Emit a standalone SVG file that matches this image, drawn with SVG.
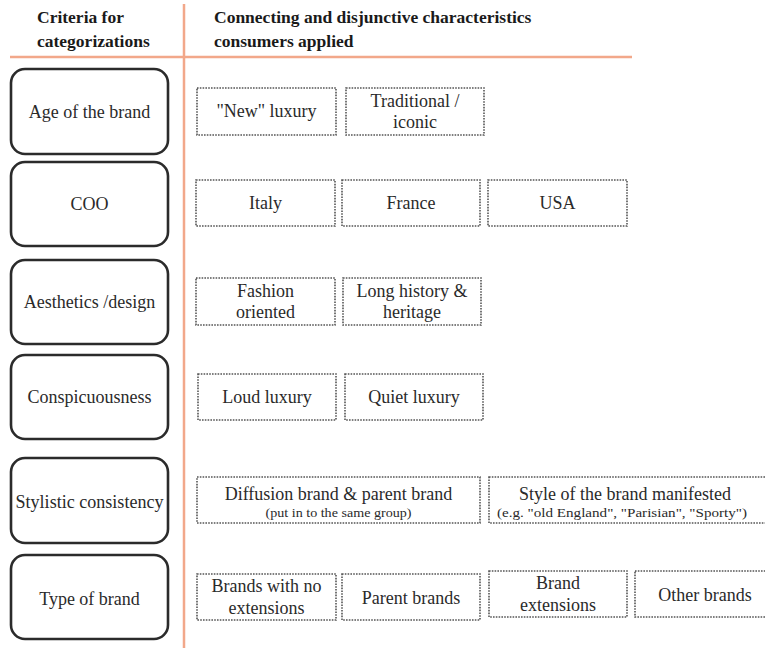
<svg xmlns="http://www.w3.org/2000/svg" width="765" height="648" viewBox="0 0 765 648" font-family="'Liberation Serif', 'Times New Roman', serif">
<style>
.bg{fill:#fff}
.ln{stroke:#f2a88a;stroke-width:2.5;fill:none}
.crit rect{fill:#fff;stroke:#2b2b2b;stroke-width:2.6}
.chr rect{fill:#fff;stroke:#555;stroke-width:1.6;stroke-dasharray:1.6 1.2}
text{font-family:'Liberation Serif','Times New Roman',serif;fill:#2a2a2a;text-anchor:middle}
.h{font-family:'Liberation Serif','Times New Roman',serif;font-weight:bold;font-size:17.5px;text-anchor:start;fill:#1a1a1a}
.t{font-family:'Liberation Serif','Times New Roman',serif;font-size:18px}
.s{font-family:'Liberation Serif','Times New Roman',serif;font-size:13px}
</style>
<rect class="bg" x="0" y="0" width="765" height="648"/>
<g id="connectors">
<line class="ln" x1="184" y1="4" x2="184" y2="648"/>
<line class="ln" x1="10" y1="57" x2="632" y2="57"/>
</g>
<g id="header">
<text class="h" x="37" y="23">Criteria for</text>
<text class="h" x="37" y="47">categorizations</text>
<text class="h" x="214" y="23">Connecting and disjunctive characteristics</text>
<text class="h" x="214" y="47">consumers applied</text>
</g>
<g id="c1" class="crit"><rect x="11" y="69" width="157" height="85" rx="14"/><text class="t" x="89.5" y="118">Age of the brand</text></g>
<g id="c2" class="crit"><rect x="11" y="162" width="157" height="84" rx="14"/><text class="t" x="89.5" y="210">COO</text></g>
<g id="c3" class="crit"><rect x="11" y="260" width="157" height="84" rx="14"/><text class="t" x="89.5" y="308">Aesthetics /design</text></g>
<g id="c4" class="crit"><rect x="11" y="355" width="157" height="84" rx="14"/><text class="t" x="89.5" y="403">Conspicuousness</text></g>
<g id="c5" class="crit"><rect x="11" y="458" width="157" height="85" rx="14"/><text class="t" x="89.5" y="508" textLength="148" lengthAdjust="spacingAndGlyphs">Stylistic consistency</text></g>
<g id="c6" class="crit"><rect x="11" y="555" width="157" height="84" rx="14"/><text class="t" x="89.5" y="605">Type of brand</text></g>

<g id="r1a" class="chr"><rect x="197" y="88" width="139" height="47"/><text class="t" x="266.5" y="117">"New" luxury</text></g>
<g id="r1b" class="chr"><rect x="346" y="88" width="138" height="47"/><text class="t" x="415" y="107">Traditional /</text><text class="t" x="415" y="128">iconic</text></g>

<g id="r2a" class="chr"><rect x="196" y="180" width="139" height="46"/><text class="t" x="265.5" y="209">Italy</text></g>
<g id="r2b" class="chr"><rect x="342" y="180" width="138" height="46"/><text class="t" x="411" y="209">France</text></g>
<g id="r2c" class="chr"><rect x="488" y="180" width="139" height="46"/><text class="t" x="557.5" y="209">USA</text></g>

<g id="r3a" class="chr"><rect x="196" y="278" width="139" height="47"/><text class="t" x="265.5" y="297">Fashion</text><text class="t" x="265.5" y="318">oriented</text></g>
<g id="r3b" class="chr"><rect x="343" y="278" width="138" height="47"/><text class="t" x="412" y="297">Long history &amp;</text><text class="t" x="412" y="318">heritage</text></g>

<g id="r4a" class="chr"><rect x="198" y="374" width="138" height="46"/><text class="t" x="267" y="403">Loud luxury</text></g>
<g id="r4b" class="chr"><rect x="345" y="374" width="138" height="46"/><text class="t" x="414" y="403">Quiet luxury</text></g>

<g id="r5a" class="chr"><rect x="197" y="477" width="283" height="46"/><text class="t" x="338.5" y="500">Diffusion brand &amp; parent brand</text><text class="s" x="338.5" y="517" textLength="146" lengthAdjust="spacingAndGlyphs">(put in to the same group)</text></g>
<g id="r5b" class="chr"><rect x="489" y="477" width="285" height="46"/><text class="t" x="625" y="500">Style of the brand manifested</text><text class="s" x="622" y="517" textLength="250" lengthAdjust="spacingAndGlyphs">(e.g. "old England", "Parisian", "Sporty")</text></g>

<g id="r6a" class="chr"><rect x="197" y="574" width="139" height="46"/><text class="t" x="266.5" y="592">Brands with no</text><text class="t" x="266.5" y="614">extensions</text></g>
<g id="r6b" class="chr"><rect x="342" y="574" width="138" height="46"/><text class="t" x="411" y="604">Parent brands</text></g>
<g id="r6c" class="chr"><rect x="489" y="571" width="138" height="46"/><text class="t" x="558" y="589">Brand</text><text class="t" x="558" y="611">extensions</text></g>
<g id="r6d" class="chr"><rect x="635" y="571" width="140" height="46"/><text class="t" x="705" y="601">Other brands</text></g>
</svg>
